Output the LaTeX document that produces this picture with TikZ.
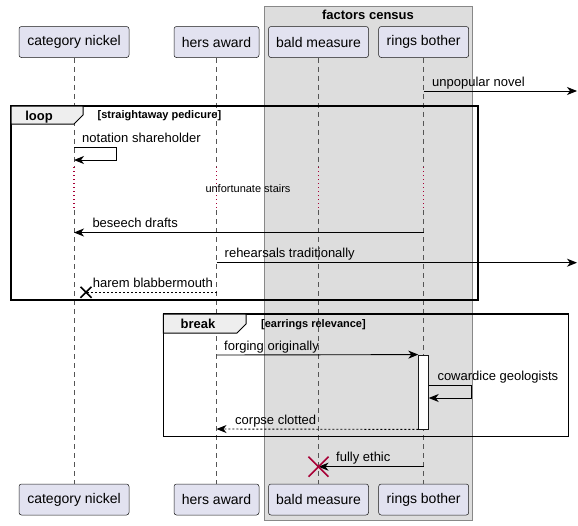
\documentclass[tikz,border=0pt]{standalone}
\usepackage{fontspec}
\setmainfont{Liberation Sans}
\usetikzlibrary{arrows.meta}

\definecolor{partfill}{HTML}{E2E2F0}
\definecolor{partline}{HTML}{181818}
\definecolor{boxfill}{HTML}{DDDDDD}
\definecolor{boxline}{HTML}{888888}
\definecolor{lifegray}{HTML}{555555}
\definecolor{crimson}{HTML}{A80036}
\definecolor{tabfill}{HTML}{EEEEEE}

\begin{document}
\begin{tikzpicture}[x=1pt,y=-1pt,
    part/.style={draw=partline, fill=partfill, rounded corners=2.5pt, line width=0.5pt,
        minimum height=31pt, inner sep=0pt, font=\fontsize{14}{16}\selectfont},
    life/.style={draw=lifegray, line width=0.6pt, dash pattern=on 5pt off 4pt},
    pause/.style={draw=crimson, line width=1.2pt, dash pattern=on 1.2pt off 2.8pt},
    msg/.style={line width=0.9pt, -{Stealth[length=10pt,width=8pt,inset=3pt]}},
    reply/.style={msg, dash pattern=on 2pt off 2pt},
    lbl/.style={anchor=base west, inner sep=0pt, font=\fontsize{13}{15}\selectfont},
    frame/.style={draw=black, line width=1.5pt},
    tab/.style={draw=black, fill=tabfill, line width=1pt}]
    \useasboundingbox (0,0) rectangle (578,525);

    % Group box
    \draw[fill=boxfill, draw=boxline, line width=1pt] (264,6) rectangle (472,520);
    \node[font=\fontsize{13}{15}\selectfont\bfseries] (grp) at (368,15) {factors census};

    % Participants, top and bottom
    \foreach \n/\x/\w/\t in {cn/74/110/category nickel, ha/216.5/85/hers award,
        bm/318.5/100/bald measure, rb/423.7/90/rings bother} {
        \node[part, minimum width=\w] (\n) at (\x,42) {\t};
        \node[part, minimum width=\w] (\n-b) at (\x,499.5) {\t};
    }

    % Lifelines (with the pause)
    \foreach \n in {cn,ha,bm,rb} {
        \draw[life] (\n.south) -- (\n |- 0,167);
        \draw[pause] (\n |- 0,167) -- (\n |- 0,210);
        \draw[life] (\n |- 0,210) -- (\n-b.north);
    }
    \coordinate (edge) at (577,0);

    % Loop frame
    \draw[frame] (11,106) rectangle (478,300);
    \draw[tab] (11,106) -- (83,106) -- (83,115) -- (74,124) -- (11,124) -- cycle;
    \node[anchor=base, inner sep=0pt, font=\fontsize{13}{15}\selectfont\bfseries] (looptxt) at (39,120) {loop};
    \node[anchor=base west, inner sep=0pt, font=\fontsize{11}{13}\selectfont\bfseries] (loopcond) at (97.5,118.5) {[straightaway pedicure]};

    % Break frame
    \draw[frame] (163.3,314) rectangle (568.3,436.7);
    \draw[tab] (163.3,314) -- (246,314) -- (246,324) -- (237,333) -- (163.3,333) -- cycle;
    \node[anchor=base, inner sep=0pt, font=\fontsize{13}{15}\selectfont\bfseries] (brktxt) at (198,328) {break};
    \node[anchor=base west, inner sep=0pt, font=\fontsize{11}{13}\selectfont\bfseries] (brkcond) at (261,327.5) {[earrings relevance]};

    % Activation
    \node[draw=partline, fill=white, line width=0.8pt, minimum width=9.6pt, minimum height=74pt,
        inner sep=0pt] (act) at (423.5,392) {};

    % Messages
    \draw[msg] (rb |- 0,91) -- (edge |- 0,91);
    \node[lbl] (m1) at (432,86) {unpopular novel};

    \draw[msg] (cn |- 0,147.3) -- ++(42.7,0) -- ++(0,12.7) -- (cn |- 0,160);
    \node[lbl] (m2) at (82,142.3) {notation shareholder};

    \node[font=\fontsize{11}{13}\selectfont, inner sep=0pt] (delay) at (248,189) {unfortunate stairs};

    \draw[msg] (rb |- 0,232.5) -- (cn |- 0,232.5);
    \node[lbl] (m3) at (92.3,227.5) {beseech drafts};

    \draw[msg] (ha |- 0,262.7) -- (edge |- 0,262.7);
    \node[lbl] (m4) at (224.5,257.7) {rehearsals traditionally};

    \path (cn |- 0,292.3) ++(12,0) coordinate (lost);
    \draw[line width=0.9pt, dash pattern=on 2pt off 2pt] (ha |- 0,292.3) -- (lost);
    \draw[line width=1.5pt] (lost) ++(-5.5,-5.5) -- ++(11,11) (lost) ++(-5.5,5.5) -- ++(11,-11);
    \node[lbl] (m5) at (92.7,287.3) {harem blabbermouth};

    \draw[msg] (ha |- 0,355) -- (act.north west);
    \node[lbl] (m6) at (224,350) {forging originally};

    \draw[msg] (act.east |- 0,385.3) -- ++(42.4,0) -- ++(0,12.7) -- (act.east |- 0,398);
    \node[lbl] (m7) at (437.3,380.3) {cowardice geologists};

    \draw[reply] (act.south west) -- (ha |- 0,429);
    \node[lbl] (m8) at (235,424) {corpse clotted};

    \draw[msg] (rb |- 0,466.7) -- (bm |- 0,466.7);
    \draw[crimson, line width=1.6pt] (bm |- 0,466.7) ++(-10,-10) -- ++(20,20)
        (bm |- 0,466.7) ++(-10,10) -- ++(20,-20);
    \node[lbl] (m9) at (336,461.7) {fully ethic};
\end{tikzpicture}
\end{document}
